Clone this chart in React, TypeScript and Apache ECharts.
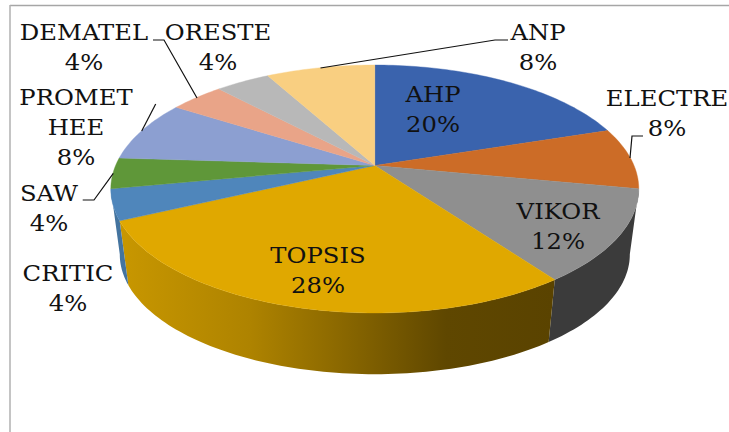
import React, { useEffect, useRef } from "react";
import * as echarts from "echarts";

// ---- data ----
const categories = ["AHP", "ELECTRE", "VIKOR", "TOPSIS", "CRITIC", "SAW", "PROMET\nHEE", "DEMATEL", "ORESTE", "ANP"];
const shares = [20, 8, 12, 28, 4, 4, 8, 4, 4, 8];

// ---- styles and layout (not data) ----
const topColors = ["#3A63AD", "#CC6C27", "#8F8F8F", "#E0A800", "#4F86BB", "#5F9739", "#8C9FD1", "#E9A488", "#B8B8B8", "#F9CF81"];
const sideFills: any = {
  2: "#3B3B3B",
  3: {
    type: "linear", x: 0, y: 0, x2: 1, y2: 0,
    colorStops: [
      { offset: 0, color: "#C89700" },
      { offset: 0.3, color: "#AE8300" },
      { offset: 0.5, color: "#8C6900" },
      { offset: 0.75, color: "#5F4700" },
      { offset: 1, color: "#5A4300" },
    ],
  },
  4: "#44749F",
};
const labelCenters = [
  [433, 109.5], [667, 113.5], [558, 226], [318, 270], [68, 288],
  [49, 208], [76, 127], [84, 47.5], [218, 47.5], [538, 47],
];
const leaderLines = [
  [[320.5, 68], [495, 40], [508, 40]],
  [[630, 158], [632, 136], [643, 136]],
  [[153, 40], [164, 40], [197, 98]],
  [[155.7, 104], [141.7, 131]],
  [[82.7, 200], [94, 200], [113.3, 173.3]],
];

const CX = 374.8;
const TOP = { y0: 165.5, A: 259.2, B: 119.5 };
const BOTTOM = { y0: 231.8, A: 250.4, B: 115.4 };
const TILT = 0.1895;

const project = (face: any, pct: number) => {
  const t = (pct / 100) * Math.PI * 2;
  const d = 1 + TILT * Math.cos(t);
  return [CX + (face.A * Math.sin(t)) / d, face.y0 - (face.B * Math.cos(t)) / d];
};
const arc = (face: any, from: number, to: number) => {
  const n = Math.max(2, Math.ceil((to - from) * 3));
  const pts: number[][] = [];
  for (let i = 0; i <= n; i++) pts.push(project(face, from + ((to - from) * i) / n));
  return pts;
};

const ranges: number[][] = [];
{
  let acc = 0;
  shares.forEach((v, i) => {
    ranges.push([acc, acc + v, i]);
    acc += v;
  });
}

export default function App() {
  const ref = useRef<HTMLDivElement>(null);
  useEffect(() => {
    const chart = echarts.init(ref.current!, undefined, { renderer: "svg" });
    chart.setOption({
      animation: false,
      backgroundColor: "#FFFFFF",
      tooltip: { show: false },
      graphic: {
        elements: [
          { type: "line", shape: { x1: 10, y1: 5.5, x2: 729, y2: 5.5 }, style: { stroke: "#A6A6A6", lineWidth: 1.5 }, silent: true },
          { type: "line", shape: { x1: 10, y1: 5, x2: 10, y2: 432 }, style: { stroke: "#B0B0B0", lineWidth: 1.5 }, silent: true },
        ],
      },
      series: [
        {
          type: "custom",
          coordinateSystem: "none",
          silent: true,
          z: 1,
          data: ranges,
          renderItem: (_p: any, api: any) => {
            const from = api.value(0), to = api.value(1), i = api.value(2);
            const mid = ((from + to) / 2) * 3.6;
            if (mid < 100 || mid > 260) return { type: "group", children: [] };
            const pts = [...arc(TOP, from, to), ...arc(BOTTOM, from, to).reverse()];
            return { type: "polygon", shape: { points: pts }, style: { fill: sideFills[i] } };
          },
        },
        {
          type: "custom",
          coordinateSystem: "none",
          silent: true,
          z: 2,
          data: ranges,
          renderItem: (_p: any, api: any) => {
            const from = api.value(0), to = api.value(1), i = api.value(2);
            const pts = [[CX, TOP.y0], ...arc(TOP, from, to)];
            return {
              type: "polygon",
              shape: { points: pts },
              style: { fill: topColors[i], stroke: topColors[i], lineWidth: 0.4 },
            };
          },
        },
        {
          type: "custom",
          coordinateSystem: "none",
          silent: true,
          z: 3,
          data: leaderLines.map((_, i) => [i]),
          renderItem: (_p: any, api: any) => ({
            type: "polyline",
            shape: { points: leaderLines[api.value(0)] },
            style: { fill: "none", stroke: "#111111", lineWidth: 1.2 },
          }),
        },
        {
          type: "custom",
          coordinateSystem: "none",
          silent: true,
          z: 4,
          data: ranges,
          renderItem: (_p: any, api: any) => {
            const i = api.value(2);
            const [x, y] = labelCenters[i];
            return {
              type: "text",
              x,
              y,
              scaleX: 1.08,
              style: {
                text: `${categories[i]}\n${shares[i]}%`,
                fontFamily: "DejaVu Serif",
                fontSize: 22.5,
                lineHeight: 30,
                fill: "#111111",
                align: "center",
                verticalAlign: "middle",
              },
            };
          },
        },
      ],
    });
    return () => chart.dispose();
  }, []);
  return <div ref={ref} style={{ position: "absolute", left: 0, top: 0, width: 729, height: 432 }} />;
}
